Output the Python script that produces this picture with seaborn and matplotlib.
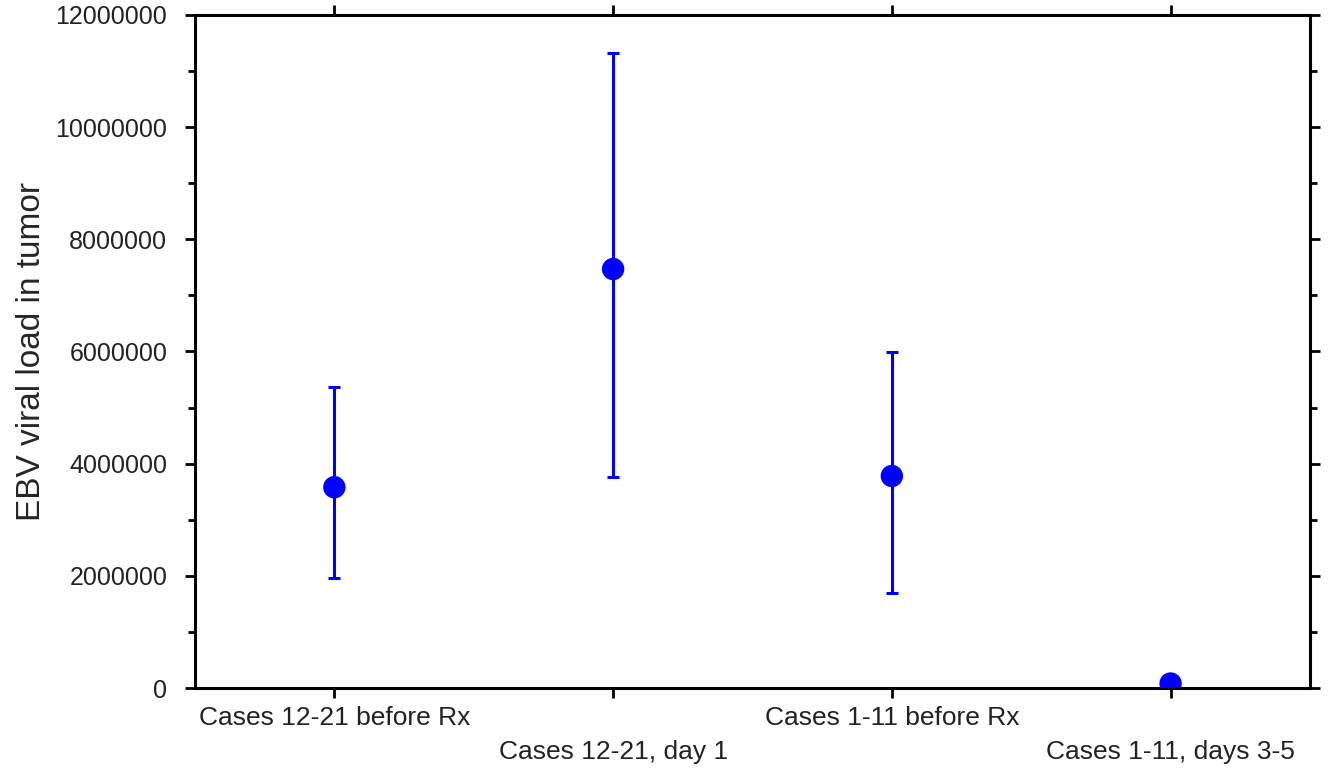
import numpy as np
import pandas as pd
import matplotlib
matplotlib.use("Agg")
import matplotlib.pyplot as plt
import seaborn as sns
from matplotlib.ticker import MultipleLocator

groups = ["Cases 12-21 before Rx", "Cases 12-21, day 1", "Cases 1-11 before Rx", "Cases 1-11, days 3-5"]
mean_load = [3580000, 7470000, 3780000, 80000]
upper_load = [5370000, 11320000, 5990000, 80000]
lower_load = [1960000, 3760000, 1690000, 80000]

df = pd.DataFrame({"group": groups, "load": mean_load, "hi": upper_load, "lo": lower_load})
df["pos"] = np.arange(len(df))

sns.set_style("ticks")
plt.rcParams["font.family"] = ["Liberation Sans", "DejaVu Sans"]

fig = plt.figure(figsize=(13.31, 7.72), dpi=100)
ax = fig.add_axes([0.1465, 0.1088, 0.8377, 0.8718])

ax.errorbar(df["pos"], df["load"],
            yerr=[df["load"] - df["lo"], df["hi"] - df["load"]],
            fmt="none", ecolor="#0000ff", elinewidth=2.2, capsize=4, capthick=2.2, zorder=2)
sns.scatterplot(data=df, x="pos", y="load", color="#0000ff", s=260,
                edgecolor="none", ax=ax, zorder=3)

ax.set_xlim(-0.5, 3.5)
ax.set_ylim(0, 12000000)
ax.yaxis.set_major_locator(MultipleLocator(2000000))
ax.yaxis.set_minor_locator(MultipleLocator(1000000))
ax.ticklabel_format(axis="y", style="plain", useOffset=False)
ax.set_xticks(df["pos"])
ax.set_xticklabels([g if i % 2 == 0 else "\n" + g for i, g in enumerate(groups)],
                   fontsize=19, color="#222222", linespacing=1.5)
ax.tick_params(axis="y", labelsize=18, labelcolor="#222222", pad=13)
ax.tick_params(axis="x", pad=6)
ax.tick_params(which="both", direction="out", width=2, color="black",
               top=True, right=True, labeltop=False, labelright=False)
ax.tick_params(which="major", length=7)
ax.tick_params(which="minor", length=5)
for s in ax.spines.values():
    s.set_linewidth(2.2)
    s.set_color("black")
    s.set_visible(True)

ax.set_xlabel("")
ax.set_ylabel("EBV viral load in tumor", fontsize=24, labelpad=6)

fig.savefig("out.png", dpi=100)
